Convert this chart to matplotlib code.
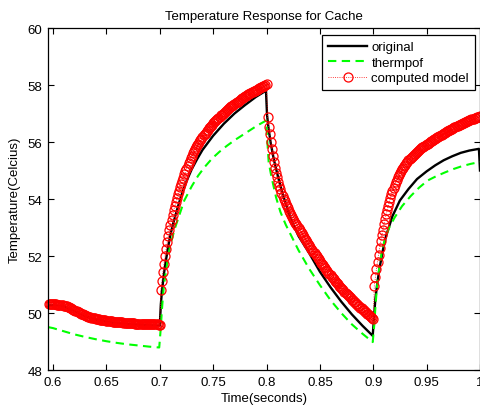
import matplotlib
matplotlib.use("Agg")
import matplotlib.pyplot as plt

plt.rcParams['font.family'] = ['Liberation Sans', 'DejaVu Sans']

# computed model (red circles), one sample per millisecond from 0.596 s to 1.000 s
t_model = [ms / 1000 for ms in range(596, 1001)]
temp_model = [
    # 0.596 - 0.700
    50.30, 50.30, 50.30, 50.30, 50.30, 50.30, 50.30, 50.30, 50.29, 50.29,
    50.29, 50.28, 50.28, 50.27, 50.26, 50.25, 50.24, 50.23, 50.21, 50.20,
    50.18, 50.16, 50.14, 50.12, 50.10, 50.08, 50.06, 50.04, 50.02, 50.00,
    49.98, 49.96, 49.95, 49.93, 49.92, 49.90, 49.89, 49.87, 49.86, 49.85,
    49.84, 49.83, 49.82, 49.81, 49.80, 49.79, 49.78, 49.78, 49.77, 49.76,
    49.75, 49.75, 49.74, 49.74, 49.73, 49.73, 49.72, 49.72, 49.71, 49.71,
    49.70, 49.70, 49.69, 49.69, 49.68, 49.68, 49.68, 49.67, 49.67, 49.67,
    49.66, 49.66, 49.66, 49.65, 49.65, 49.65, 49.65, 49.64, 49.64, 49.64,
    49.64, 49.63, 49.63, 49.63, 49.63, 49.62, 49.62, 49.62, 49.62, 49.62,
    49.62, 49.61, 49.61, 49.61, 49.61, 49.61, 49.61, 49.60, 49.60, 49.60,
    49.60, 49.60, 49.60, 49.59, 49.59,
    # 0.701 - 0.800
    50.80, 51.14, 51.45, 51.73, 52.00, 52.25, 52.48, 52.70, 52.90, 53.09,
    53.27, 53.44, 53.60, 53.75, 53.89, 54.03, 54.16, 54.29, 54.41, 54.52,
    54.63, 54.75, 54.86, 54.97, 55.07, 55.17, 55.26, 55.35, 55.44, 55.52,
    55.60, 55.67, 55.74, 55.81, 55.88, 55.94, 56.00, 56.06, 56.12, 56.17,
    56.23, 56.28, 56.33, 56.38, 56.43, 56.48, 56.52, 56.57, 56.61, 56.65,
    56.69, 56.73, 56.77, 56.81, 56.85, 56.89, 56.93, 56.96, 57.00, 57.03,
    57.07, 57.10, 57.13, 57.16, 57.19, 57.22, 57.25, 57.28, 57.31, 57.34,
    57.37, 57.40, 57.42, 57.45, 57.48, 57.50, 57.53, 57.55, 57.58, 57.60,
    57.62, 57.65, 57.67, 57.69, 57.71, 57.74, 57.76, 57.78, 57.80, 57.82,
    57.84, 57.86, 57.88, 57.90, 57.92, 57.94, 57.96, 57.98, 58.00, 58.02,
    # 0.801 - 0.900
    56.88, 56.54, 56.27, 56.01, 55.76, 55.52, 55.30, 55.10, 54.92, 54.76,
    54.61, 54.47, 54.34, 54.22, 54.11, 54.01, 53.92, 53.83, 53.75, 53.67,
    53.59, 53.52, 53.45, 53.38, 53.31, 53.24, 53.17, 53.11, 53.04, 52.98,
    52.92, 52.85, 52.79, 52.73, 52.67, 52.61, 52.55, 52.49, 52.43, 52.37,
    52.32, 52.26, 52.21, 52.15, 52.10, 52.04, 51.99, 51.93, 51.88, 51.82,
    51.77, 51.72, 51.67, 51.62, 51.57, 51.52, 51.47, 51.42, 51.37, 51.32,
    51.28, 51.23, 51.19, 51.14, 51.10, 51.05, 51.01, 50.96, 50.92, 50.87,
    50.83, 50.79, 50.75, 50.71, 50.67, 50.63, 50.59, 50.55, 50.51, 50.47,
    50.44, 50.40, 50.37, 50.33, 50.30, 50.26, 50.23, 50.19, 50.16, 50.12,
    50.09, 50.05, 50.02, 49.98, 49.95, 49.92, 49.88, 49.85, 49.82, 49.79,
    # 0.901 - 1.000
    50.95, 51.26, 51.54, 51.80, 52.05, 52.29, 52.51, 52.72, 52.92, 53.11,
    53.29, 53.46, 53.62, 53.77, 53.91, 54.04, 54.16, 54.28, 54.39, 54.49,
    54.59, 54.68, 54.76, 54.84, 54.91, 54.98, 55.04, 55.10, 55.16, 55.21,
    55.26, 55.31, 55.36, 55.40, 55.44, 55.48, 55.52, 55.55, 55.59, 55.62,
    55.65, 55.69, 55.72, 55.75, 55.78, 55.81, 55.84, 55.86, 55.89, 55.92,
    55.94, 55.97, 56.00, 56.02, 56.05, 56.07, 56.10, 56.12, 56.15, 56.17,
    56.19, 56.22, 56.24, 56.26, 56.28, 56.31, 56.33, 56.35, 56.37, 56.39,
    56.41, 56.43, 56.45, 56.47, 56.49, 56.51, 56.53, 56.55, 56.57, 56.59,
    56.61, 56.62, 56.64, 56.66, 56.68, 56.70, 56.71, 56.73, 56.75, 56.76,
    56.78, 56.79, 56.81, 56.82, 56.84, 56.85, 56.87, 56.88, 56.89, 56.90,
]

# original (black)
t_orig = [
    0.596, 0.600, 0.610, 0.620, 0.630, 0.640, 0.650, 0.660, 0.670, 0.680,
    0.690, 0.700,
    0.701, 0.702, 0.704, 0.706, 0.708, 0.710, 0.713, 0.716, 0.720, 0.725,
    0.730, 0.735, 0.740, 0.750, 0.760, 0.770, 0.780, 0.790, 0.7995,
    0.8005, 0.802, 0.804, 0.806, 0.808, 0.811, 0.815, 0.820, 0.825, 0.830,
    0.840, 0.850, 0.860, 0.870, 0.880, 0.890, 0.8995,
    0.901, 0.902, 0.904, 0.906, 0.909, 0.912, 0.918, 0.925, 0.933, 0.941,
    0.950, 0.958, 0.966, 0.974, 0.982, 0.990, 0.999, 1.000,
]
temp_orig = [
    50.27, 50.27, 50.23, 50.07, 49.89, 49.77, 49.69, 49.64, 49.61, 49.59,
    49.57, 49.55,
    50.30, 50.75, 51.40, 51.90, 52.35, 52.75, 53.20, 53.60, 54.10, 54.62,
    55.05, 55.40, 55.72, 56.22, 56.64, 57.00, 57.30, 57.58, 57.80,
    56.95, 56.45, 55.95, 55.55, 55.20, 54.75, 54.20, 53.60, 53.10, 52.70,
    52.10, 51.45, 50.90, 50.40, 49.95, 49.55, 49.20,
    50.00, 50.50, 51.10, 51.60, 52.20, 52.70, 53.40, 53.95, 54.35, 54.70,
    54.97, 55.18, 55.36, 55.50, 55.62, 55.70, 55.76, 55.00,
]

# thermpof (green dashed)
t_therm = [
    0.596, 0.600, 0.610, 0.620, 0.630, 0.640, 0.650, 0.660, 0.670, 0.680,
    0.690, 0.6995,
    0.701, 0.702, 0.703, 0.704, 0.706, 0.708, 0.710, 0.714, 0.718, 0.723,
    0.730, 0.736, 0.742, 0.749, 0.756, 0.763, 0.770, 0.777, 0.784, 0.791,
    0.7995,
    0.801, 0.802, 0.804, 0.806, 0.809, 0.813, 0.818, 0.822, 0.830, 0.840,
    0.850, 0.860, 0.870, 0.880, 0.890, 0.8995,
    0.901, 0.902, 0.903, 0.904, 0.906, 0.908, 0.911, 0.915, 0.920, 0.927,
    0.935, 0.943, 0.951, 0.959, 0.967, 0.975, 0.983, 0.991, 1.000,
]
temp_therm = [
    49.50, 49.47, 49.36, 49.25, 49.16, 49.08, 49.01, 48.95, 48.90, 48.86,
    48.82, 48.79,
    49.50, 50.10, 50.60, 51.00, 51.50, 52.00, 52.40, 52.95, 53.40, 53.95,
    54.45, 54.82, 55.12, 55.42, 55.66, 55.87, 56.06, 56.23, 56.40, 56.57,
    56.75,
    55.90, 55.30, 54.90, 54.55, 54.05, 53.55, 53.10, 52.80, 52.20, 51.55,
    50.98, 50.45, 50.00, 49.60, 49.27, 48.98,
    49.60, 50.20, 50.70, 51.10, 51.70, 52.15, 52.60, 53.00, 53.35, 53.75,
    54.10, 54.40, 54.65, 54.80, 54.93, 55.05, 55.15, 55.23, 55.30,
]

x_ticks = [0.6, 0.65, 0.7, 0.75, 0.8, 0.85, 0.9, 0.95, 1.0]
x_tick_labels = ['0.6', '0.65', '0.7', '0.75', '0.8', '0.85', '0.9', '0.95', '1']
y_ticks = [48, 50, 52, 54, 56, 58, 60]

fig = plt.figure(figsize=(4.81, 4.06), dpi=100)
ax = fig.add_axes([48 / 481, 35 / 406, 432 / 481, 342 / 406])

ax.plot(t_orig, temp_orig, color='black', lw=1.7, label='original')
ax.plot(t_therm, temp_therm, color='#00ff00', lw=1.5, ls=(0, (4, 2.6)), label='thermpof')
ax.plot(t_model, temp_model, color='red', ls=':', lw=0.6, marker='o', ms=6.5,
        mfc='none', mec='red', mew=0.9, label='computed model', clip_on=False)

ax.set_xlim(0.5953, 1.0)
ax.set_ylim(48, 60)
ax.set_xticks(x_ticks)
ax.set_xticklabels(x_tick_labels)
ax.set_yticks(y_ticks)
ax.tick_params(direction='in', top=True, right=True, length=4, width=0.8,
               labelsize=9.5, pad=4)
for s in ax.spines.values():
    s.set_linewidth(0.9)

ax.set_title('Temperature Response for Cache', fontsize=9.5, pad=6.5)
ax.set_xlabel('Time(seconds)', fontsize=9.5, labelpad=3)
ax.set_ylabel('Temperature(Celcius)', fontsize=9.5, labelpad=5)

leg = ax.legend(loc='upper right', bbox_to_anchor=(475 / 481, 1 - 36 / 406),
                bbox_transform=fig.transFigure, fontsize=9.5, numpoints=1,
                handlelength=3.0, handletextpad=0.3, labelspacing=0.25,
                borderpad=0.45, borderaxespad=0, fancybox=False, framealpha=1)
leg.get_frame().set_edgecolor('black')
leg.get_frame().set_linewidth(0.9)

fig.savefig('out.png', dpi=100)
